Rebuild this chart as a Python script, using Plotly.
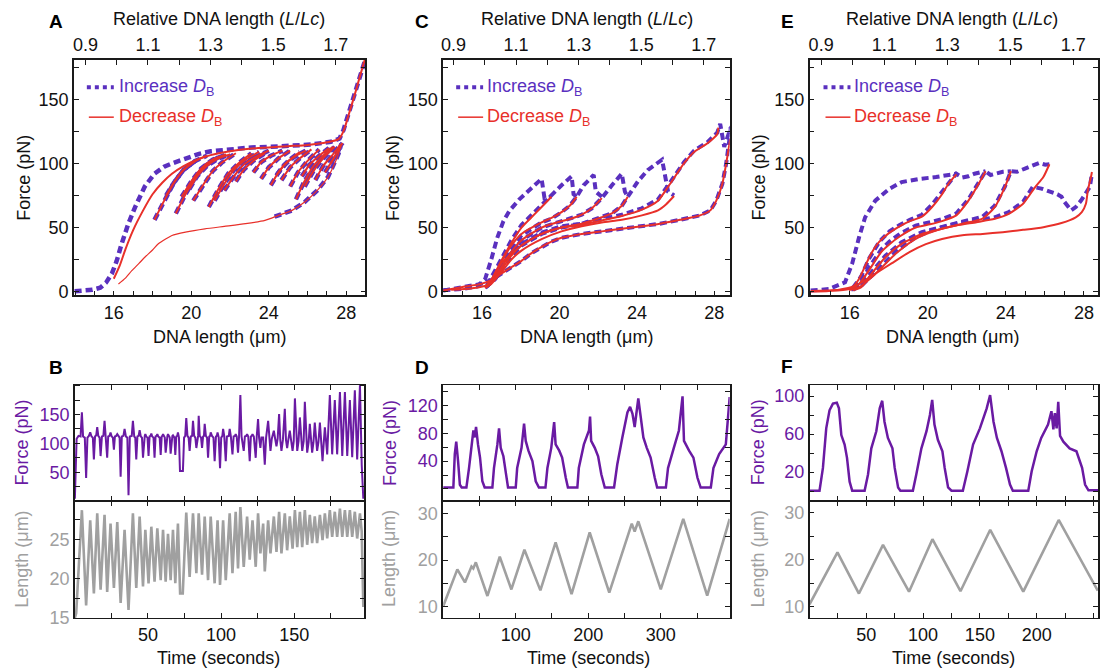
import plotly.graph_objects as go

W, H = 1100, 672          # reference pixel space used for placing everything
FIG_H = 683               # figure height (captured page is scaled back to 672)
FONT = "Arial, 'Liberation Sans', Helvetica, sans-serif"
PURPLE = "#5a30bf"
RED = "#e8302a"
FPURPLE = "#6a1aa3"
GRAY = "#a0a0a0"
INK = "#1a1a1a"
LC = 16.15  # contour length (um) used for the relative-length axis

# ---------------- data: panel A (force vs extension) ----------------
A_inc_envelope = [(13.98, 0.3), (14.5, 0.8), (14.9, 1.4), (15.3, 3), (15.6, 7), (15.9, 14), (16.15, 24),
                  (16.4, 37), (16.75, 53), (17.1, 66), (17.6, 82), (18.1, 92), (18.6, 97.5), (19.0, 100),
                  (19.5, 103), (20.4, 107.5), (21.0, 109.5), (22.1, 111.5), (23.1, 112.5), (24.1, 113),
                  (25.2, 113.7), (26.2, 114.8), (27.2, 116.9), (27.65, 119.5), (27.85, 126), (28.1, 139),
                  (28.35, 150), (28.6, 163), (28.85, 175), (29.0, 182)]
A_dec_envelope = [(16.0, 10), (16.3, 20), (16.6, 33), (17.0, 48), (17.5, 63), (18.0, 76), (18.5, 85),
                  (19.0, 92), (19.6, 98), (20.3, 103), (21.0, 106.5), (22.0, 109.5), (23.0, 111.5),
                  (24.0, 112.5), (25.0, 113.5), (26.0, 114.5), (27.0, 116.5), (27.6, 119), (27.85, 125),
                  (28.1, 137), (28.4, 152), (28.7, 168), (28.95, 181)]
A_branches = [
    [(18.1, 56), (18.6, 71), (19.1, 85), (19.6, 95), (20.3, 103)],
    [(18.7, 75), (19.1, 85), (19.6, 95), (20.2, 102), (20.8, 106)],
    [(19.2, 61), (19.7, 76), (20.2, 89), (20.7, 98), (21.4, 105)],
    [(19.5, 74), (20.0, 86), (20.5, 96), (21.1, 103), (21.8, 107)],
    [(19.9, 80), (20.3, 90), (20.8, 98), (21.4, 104), (22.0, 107)],
    [(20.1, 71), (20.6, 83), (21.1, 94), (21.6, 101), (22.3, 108)],
    [(20.9, 66), (21.4, 80), (21.9, 92), (22.5, 101), (23.1, 108)],
    [(21.2, 71), (21.7, 84), (22.2, 95), (22.8, 103), (23.5, 109)],
    [(21.7, 79), (22.2, 90), (22.7, 99), (23.3, 105), (24.0, 110)],
    [(22.3, 86), (22.7, 95), (23.2, 102), (23.8, 108)],
    [(23.2, 93), (23.6, 101), (24.1, 106), (24.7, 110)],
    [(23.6, 88), (24.0, 97), (24.5, 104), (25.1, 110)],
    [(24.1, 83), (24.5, 93), (25.0, 102), (25.6, 109)],
    [(24.4, 91), (24.8, 99), (25.3, 105), (25.9, 110)],
    [(24.65, 87), (25.1, 97), (25.6, 104), (26.2, 111)],
    [(25.1, 82), (25.5, 93), (26.0, 102), (26.6, 111)],
    [(25.4, 72), (25.8, 85), (26.3, 98), (26.8, 106), (27.3, 113)],
    [(25.7, 90), (26.1, 99), (26.6, 106), (27.1, 112)],
    [(25.85, 82), (26.3, 94), (26.8, 104), (27.4, 113)],
    [(26.4, 87), (26.8, 98), (27.3, 107), (27.7, 115)],
    [(26.9, 93), (27.3, 103), (27.7, 113)],
    [(27.2, 100), (27.5, 108), (27.8, 116)],
]
A_low_dec = [(16.24, 5.9), (16.6, 10.5), (16.93, 16.4), (17.3, 22), (17.6, 26.8), (18.0, 32.5), (18.3, 37.3),
             (18.7, 41.2), (19.0, 43.8), (19.7, 46.4), (20.7, 49), (21.7, 50.9), (22.8, 53), (23.8, 55.6),
             (24.5, 59.5), (25.2, 63.4), (25.85, 69.9), (26.5, 79), (27.05, 89.4), (27.4, 99.9),
             (27.6, 107.7), (27.74, 115.5)]
A_low_inc = [(24.3, 58.5), (24.5, 59.5), (25.2, 63.4), (25.85, 69.9), (26.5, 79), (27.05, 89.4),
             (27.4, 99.9), (27.6, 107.7), (27.74, 115.5)]

# ---------------- data: panel C ----------------
C_inc_curves = [
    [(14.0, 1), (14.93, 2), (15.76, 4), (16.17, 10), (16.48, 25), (16.79, 42), (17.11, 55), (17.42, 63),
     (17.93, 72), (18.56, 81), (19.08, 88), (19.23, 73), (19.59, 74)],
    [(16.27, 5), (16.59, 14), (17.0, 27), (17.52, 40), (18.04, 52), (18.56, 60), (19.08, 68), (19.59, 76),
     (20.11, 83), (20.63, 90), (20.73, 76), (20.89, 74)],
    [(16.27, 4), (16.79, 14), (17.31, 28), (18.04, 44), (19.08, 54), (19.59, 57), (20.11, 62), (20.53, 67),
     (20.89, 74), (21.25, 83), (21.77, 91), (21.88, 78), (22.19, 74)],
    [(16.17, 3), (16.69, 10), (17.21, 24), (18.04, 40), (19.08, 50), (20.11, 55), (20.63, 57), (21.15, 60),
     (21.67, 65), (22.19, 73), (22.71, 83), (23.22, 92), (23.38, 78), (23.53, 74)],
    [(16.17, 3), (16.69, 10), (17.21, 22), (18.04, 36), (19.08, 45), (20.11, 50), (21.15, 53), (22.19, 58),
     (22.71, 61), (23.22, 67), (23.53, 74), (24.05, 86), (24.57, 95), (25.30, 103), (25.61, 78),
     (25.92, 75)],
    [(16.27, 5), (16.59, 12), (17.0, 23), (17.52, 30), (18.04, 37), (19.08, 46), (20.11, 51), (21.15, 53),
     (22.19, 56.5), (23.22, 60), (24.26, 65), (25.09, 72), (25.71, 85), (26.43, 101), (26.95, 110),
     (27.63, 116.5), (28.15, 124), (28.30, 131), (28.51, 113), (28.72, 122), (28.87, 129)],
    [(14.0, 0.8), (14.93, 3.4), (15.96, 6), (16.48, 9), (17.0, 14), (17.52, 19), (18.04, 24), (18.56, 30),
     (19.08, 35), (19.59, 39), (20.11, 42), (21.15, 45), (22.19, 47), (23.22, 49), (24.26, 51), (25.19, 53),
     (26.23, 56), (27.26, 59.5), (27.79, 63.4), (28.10, 71), (28.41, 84), (28.61, 100), (28.77, 118),
     (28.87, 130)],
]
C_dec_curves = [
    [(19.59, 74), (19.08, 66), (18.56, 58), (18.04, 50), (17.52, 38), (17.0, 24), (16.59, 12), (16.27, 5),
     (15.45, 2.5), (14.41, 1.5)],
    [(20.89, 74), (20.53, 67), (20.11, 62), (19.59, 57.5), (19.08, 54), (18.04, 45), (17.52, 36), (17.0, 23),
     (16.59, 11), (16.27, 4)],
    [(22.19, 73), (21.67, 65), (21.15, 60), (20.63, 57), (20.11, 55), (19.08, 50), (18.04, 40), (17.52, 31),
     (17.0, 19), (16.48, 7), (16.17, 3)],
    [(23.53, 74), (23.22, 67), (22.71, 61), (22.19, 58), (21.15, 53), (20.11, 50), (19.08, 45), (18.04, 36),
     (17.52, 28), (17.0, 17), (16.48, 7), (16.17, 3)],
    [(25.92, 74.6), (25.50, 68), (25.09, 63.4), (24.26, 59.5), (23.22, 56), (22.19, 54), (21.15, 51),
     (20.11, 47), (19.08, 41), (18.04, 32), (17.52, 25), (17.0, 15), (16.48, 6), (16.17, 3)],
    [(28.20, 128), (28.15, 123), (27.63, 115.6), (26.95, 109), (26.43, 100), (25.71, 84), (25.09, 71),
     (24.26, 64), (23.22, 59), (22.19, 55.5), (21.15, 52), (20.11, 50), (19.08, 45), (18.04, 36), (17.0, 22),
     (16.48, 9), (16.17, 4)],
    [(28.82, 119), (28.72, 110), (28.61, 100), (28.41, 84), (28.10, 71), (27.79, 63.4), (27.26, 59.5),
     (26.23, 56), (25.19, 53), (24.26, 51), (23.22, 49), (22.19, 47), (21.15, 45), (20.11, 42), (19.59, 39),
     (19.08, 35), (18.56, 30), (18.04, 24), (17.52, 19), (17.0, 14), (16.48, 9), (15.96, 6), (14.93, 3.4),
     (14.0, 0.8)],
]

# ---------------- data: panel E ----------------
E_inc_curves = [
    [(14.0, 0.8), (14.93, 2), (15.76, 7.3), (16.12, 21.6), (16.48, 42.5), (16.79, 58), (17.31, 71),
     (18.04, 80.3), (18.66, 85.5), (19.59, 88), (20.42, 89.4), (21.05, 91), (21.46, 92)],
    [(16.17, 3), (16.59, 12), (17.0, 26), (17.52, 39), (18.04, 47), (18.56, 52), (19.08, 56), (19.70, 60),
     (20.22, 68), (20.73, 78), (21.05, 85), (21.46, 92), (21.77, 89), (22.08, 90), (22.39, 92),
     (22.71, 93.5), (22.96, 94)],
    [(16.17, 2), (16.59, 8), (17.0, 19), (17.62, 33), (18.04, 39), (18.56, 45), (19.38, 51.5), (20.11, 54),
     (20.73, 56.5), (21.46, 61), (22.08, 72), (22.60, 85), (22.96, 94), (23.22, 91), (23.53, 92),
     (23.84, 93.5), (24.26, 94)],
    [(16.17, 1.5), (16.59, 5), (17.11, 15), (17.83, 28), (18.66, 38.5), (19.70, 46.5), (20.73, 50.5),
     (21.77, 54.5), (22.81, 58.5), (23.43, 67), (23.95, 82), (24.26, 94), (24.57, 93.5), (24.98, 96),
     (25.40, 98.5), (25.71, 100.4), (26.02, 99), (26.23, 99.4)],
    [(16.07, 1.5), (16.59, 4.5), (17.31, 15), (18.35, 31), (19.38, 42.5), (20.42, 49), (21.46, 53),
     (22.50, 55.5), (23.43, 58), (24.15, 62), (24.88, 70), (25.38, 81.7), (25.82, 80.4), (26.33, 77.7),
     (26.64, 76), (26.85, 74), (27.0, 70), (27.34, 63.4), (27.58, 66), (27.86, 71.2), (28.30, 81.7),
     (28.41, 92)],
]
E_dec_curves = [
    [(21.46, 91.5), (21.05, 84), (20.73, 76), (20.22, 66), (19.70, 58.5), (19.08, 55), (18.56, 51),
     (18.04, 46), (17.52, 39), (17.11, 30), (16.79, 20), (16.48, 10), (16.17, 4), (15.45, 1.5), (14.0, 0.5)],
    [(22.96, 94), (22.60, 84), (22.08, 71), (21.46, 59.5), (20.73, 55), (20.11, 52.5), (19.38, 50),
     (18.56, 43), (18.04, 37), (17.62, 31), (17.0, 17), (16.48, 6), (16.07, 1.5)],
    [(24.26, 94), (23.95, 81.6), (23.43, 66), (22.81, 57), (21.77, 53), (20.73, 49), (19.70, 45),
     (18.66, 37.3), (17.83, 26.8), (17.11, 13.8), (16.59, 3.4), (16.17, 1)],
    [(26.23, 99.4), (25.92, 89.4), (25.50, 81.6), (24.88, 68.6), (24.15, 60.7), (23.43, 56.8), (22.50, 54.2),
     (21.46, 51.6), (20.42, 47.7), (19.38, 41.2), (18.35, 29.5), (17.31, 13.8), (16.48, 3.4), (15.96, 1.3)],
    [(28.41, 93.3), (28.36, 89.4), (28.20, 79), (28.10, 68.6), (27.89, 62), (27.58, 58), (26.85, 53.5),
     (25.92, 50.3), (24.88, 48.2), (23.84, 46.4), (22.81, 45), (21.77, 44), (20.73, 41), (19.90, 37),
     (19.08, 31), (18.14, 22), (17.31, 14), (16.59, 7), (15.96, 2), (14.93, 0.5), (14.0, 0)],
]

# ---------------- data: panel B (time series) ----------------
B_length = [(0, 15.0), (0.9, 15.6), (4.8, 28.7), (7.7, 16.6), (10.5, 27.4), (13.0, 18.1), (15.3, 28.3),
            (17.6, 18.6), (20.3, 28.1), (22.1, 18.3), (24.4, 27.0), (26.7, 18.8), (29.0, 27.2), (31.3, 16.9),
            (34.0, 26.2), (36.7, 16.0), (39.7, 28.3), (42.0, 18.8), (44.3, 27.9), (46.6, 19.0), (48.2, 26.2),
            (50.4, 19.4), (52.3, 26.6), (54.5, 19.6), (56.4, 26.4), (58.7, 19.8), (60.3, 26.2), (62.1, 19.6),
            (63.7, 25.7), (65.5, 19.8), (67.1, 26.2), (68.7, 19.4), (70.5, 27.0), (72.0, 18.1), (73.8, 18.1),
            (76.2, 28.4), (78.5, 20.2), (80.8, 28.3), (83.1, 20.7), (84.7, 28.3), (87.0, 20.5), (88.8, 27.9),
            (91.1, 19.8), (92.9, 27.9), (95.6, 19.4), (97.6, 27.4), (99.3, 19.2), (101.4, 27.4), (103.2, 19.8),
            (105.9, 28.3), (107.8, 20.7), (110.0, 28.5), (111.6, 21.3), (113.2, 29.1), (115.5, 21.5),
            (117.8, 27.9), (119.6, 22.4), (121.5, 27.4), (123.7, 21.5), (125.3, 28.3), (126.9, 23.2),
            (128.8, 27.0), (129.9, 20.9), (132.2, 27.4), (133.8, 23.2), (136.1, 27.9), (137.9, 23.4),
            (139.7, 28.5), (141.3, 23.2), (143.6, 28.3), (145.2, 23.6), (147.0, 27.9), (148.9, 23.8),
            (150.5, 28.7), (152.1, 24.0), (153.9, 28.5), (155.5, 24.0), (157.3, 28.7), (158.9, 24.3),
            (160.7, 28.1), (162.3, 24.5), (164.1, 27.9), (165.7, 24.5), (167.6, 28.1), (169.4, 24.9),
            (171.0, 28.3), (172.6, 25.1), (174.4, 28.7), (176.0, 25.3), (177.8, 28.5), (179.4, 25.3),
            (181.3, 28.9), (182.9, 25.3), (184.7, 28.7), (186.3, 25.3), (188.1, 28.7), (189.7, 25.3),
            (191.5, 28.5), (193.1, 25.1), (195.0, 28.3), (196.2, 26.0), (197.3, 16.4)]
B_force = [(0, 4), (1.2, 108), (2.5, 113), (3.9, 112), (4.8, 154), (5.6, 112), (6.8, 110), (7.7, 40), (8.6, 110),
           (9.6, 113), (10.5, 119), (11.4, 112), (12.3, 110), (13.0, 72), (13.8, 112), (14.6, 114), (15.3, 128),
           (16.0, 113), (16.9, 110), (17.6, 78), (18.5, 112), (19.5, 113), (20.3, 139), (21.0, 113), (21.5, 110),
           (22.1, 75), (22.8, 112), (23.7, 113), (24.4, 119), (25.2, 112), (26.0, 110), (26.7, 89), (27.4, 112),
           (28.3, 113), (29.0, 116), (29.8, 112), (30.6, 110), (31.3, 42), (32.1, 112), (33.2, 113), (34.0, 125),
           (34.9, 112), (35.9, 110), (36.7, 10), (37.6, 112), (38.9, 113), (39.7, 139), (40.6, 112), (41.3, 110),
           (42.0, 72), (42.8, 112), (43.6, 113), (44.3, 123), (45.1, 112), (45.9, 110), (46.6, 75), (47.3, 112),
           (47.8, 113), (48.2, 116), (48.8, 112), (49.7, 110), (50.4, 78), (51.1, 112), (51.8, 113), (52.3, 117),
           (52.9, 112), (53.8, 110), (54.5, 75), (55.2, 112), (55.9, 113), (56.4, 116), (57.0, 112), (58.0, 110),
           (58.7, 80), (59.4, 112), (59.9, 113), (60.3, 116), (60.8, 112), (61.5, 110), (62.1, 84), (62.8, 112),
           (63.3, 113), (63.7, 116), (64.2, 112), (64.9, 110), (65.5, 82), (66.2, 112), (66.7, 113), (67.1, 114),
           (67.6, 112), (68.1, 110), (68.7, 80), (69.4, 112), (70.0, 113), (70.5, 119), (71.2, 110), (71.9, 52),
           (73.9, 52), (74.7, 110), (75.5, 113), (76.2, 144), (77.0, 113), (77.8, 110), (78.5, 87), (79.3, 112),
           (80.2, 113), (80.8, 139), (81.6, 113), (82.4, 110), (83.1, 92), (83.8, 112), (84.3, 113), (84.7, 148),
           (85.4, 113), (86.3, 110), (87.0, 92), (87.7, 112), (88.3, 113), (88.8, 134), (89.6, 113), (90.4, 110),
           (91.1, 75), (91.9, 112), (92.5, 113), (92.9, 119), (93.8, 113), (94.8, 110), (95.6, 69), (96.5, 112),
           (97.1, 113), (97.6, 119), (98.4, 110), (99.3, 57), (100.1, 110), (100.9, 113), (101.4, 125),
           (102.2, 112), (103.2, 69), (104.0, 112), (105.3, 113), (105.9, 125), (106.7, 112), (107.8, 81),
           (108.6, 112), (109.5, 113), (110.0, 116), (110.7, 112), (111.6, 84), (112.3, 112), (113.2, 184),
           (114.0, 112), (115.5, 87), (116.3, 112), (117.2, 113), (117.8, 116), (118.6, 112), (119.6, 69),
           (120.4, 112), (121.0, 113), (121.5, 116), (122.4, 112), (123.7, 75), (124.4, 112), (125.3, 142),
           (126.0, 110), (126.9, 92), (127.6, 110), (128.8, 110), (129.9, 63), (130.8, 110), (132.2, 139),
           (133.0, 108), (133.8, 87), (134.7, 108), (136.1, 122), (137.0, 108), (137.9, 95), (138.7, 108),
           (139.7, 151), (140.5, 106), (141.3, 87), (142.3, 106), (143.6, 160), (144.4, 106), (145.2, 92),
           (146.0, 106), (147.0, 122), (148.0, 104), (148.9, 87), (149.7, 104), (150.5, 178), (152.1, 87),
           (153.0, 104), (153.9, 145), (155.5, 87), (156.5, 104), (157.3, 172), (158.9, 84), (159.9, 102),
           (160.7, 134), (162.3, 84), (163.2, 102), (164.1, 136), (165.7, 87), (166.6, 102), (167.6, 136),
           (169.4, 69), (170.2, 100), (171.0, 128), (172.6, 81), (174.4, 184), (176.0, 81), (177.8, 175),
           (179.4, 81), (181.3, 189), (182.9, 78), (184.7, 189), (186.3, 78), (188.1, 175), (189.7, 76),
           (191.5, 192), (193.1, 72), (195.0, 201), (196.2, 63), (197.3, 4)]

# ---------------- data: panel D ----------------
D_length = [(0, 10.1), (19.5, 18.0), (30, 15.2), (39, 18.6), (41.5, 18.2), (45, 19.5), (61, 12.3), (78, 20.7),
            (94, 13.7), (112, 22.2), (134, 13.5), (155, 23.8), (177, 12.7), (202, 25.9), (229, 13.0),
            (260, 27.8), (264, 26.1), (269, 28.3), (300, 13.7), (331, 28.8), (364, 12.4), (395, 28.8)]
D_force = [(0, 2), (14, 2), (16, 50), (18, 68), (20.5, 40), (23, 6), (25.5, 2), (32, 2), (35.6, 30), (40, 69),
           (41.6, 84), (43.4, 74), (45.3, 89), (48, 64), (50.8, 45), (54, 11), (57.2, 2), (67.8, 2), (70, 30),
           (74.7, 64), (77, 87), (79.3, 59), (83, 47), (86.7, 21), (89.4, 2), (100, 2), (102, 30), (108, 59),
           (111.5, 94), (113.8, 69), (117.5, 55), (123, 40), (127.6, 11), (132, 2), (141, 2), (143.7, 30),
           (149, 59), (153, 96), (155, 64), (160, 55), (164, 45), (169, 16), (172, 2), (185, 2), (187, 30),
           (194, 64), (201, 84), (202.5, 104), (204, 69), (209, 59), (213.6, 47), (218, 21), (222.8, 2),
           (235.6, 2), (240, 35), (247, 74), (254, 110), (257.7, 118), (261, 108), (264, 89), (267, 118),
           (269, 130), (272.4, 103), (276, 74), (280.7, 59), (286, 45), (291.7, 16), (295, 2), (307, 2),
           (310, 30), (318, 59), (325, 84), (330, 133), (332, 69), (339, 55), (345, 45), (350.6, 16), (355, 2),
           (369, 2), (372.6, 30), (380.5, 50), (389.7, 64), (395, 132)]

# ---------------- data: panel F ----------------
F_length = [(0, 10.5), (24.6, 21.6), (43.5, 12.8), (64.7, 23.2), (87.6, 13.2), (108.2, 24.4), (132.9, 13.3),
            (159.1, 26.4), (188.2, 13.2), (219.4, 28.5), (253.8, 13.4)]
F_force = [(0, 0.5), (8.8, 0.5), (11.8, 24.5), (14.7, 66), (17.6, 85), (20.6, 92), (24, 93), (25.9, 87), (28, 59),
           (30.9, 49), (33, 35), (35.3, 10), (37.6, 0.5), (48.5, 0.5), (51.5, 17.6), (54.4, 45), (58.8, 63),
           (61.8, 87), (64, 95), (66, 73), (69, 56), (73, 45), (75, 24.5), (78, 4), (80, 0.5), (91, 0.5),
           (94, 17.6), (98.5, 45), (103, 63), (106, 80), (108, 96), (110, 70), (113, 54), (117, 42), (119, 24.5),
           (122, 4), (125, 0.5), (135, 0.5), (139, 21), (144, 49), (150, 66), (156, 87), (159, 101), (162, 73),
           (165, 56), (169, 42), (173, 24.5), (176.5, 7), (179, 0.5), (192.6, 0.5), (195.6, 21), (200, 42),
           (204, 56), (210, 70), (213, 84), (214.7, 65), (216, 82), (217.6, 66), (219, 94), (220.6, 58),
           (223.5, 52), (229, 45), (235, 42), (240, 24.5), (242.6, 7), (245.6, 1), (254, 1)]

# ---------------- tick labels ----------------
FE_x_labels = [16, 20, 24, 28]
FE_y_labels = [0, 50, 100, 150]
REL_labels = [0.9, 1.1, 1.3, 1.5, 1.7]
B_t_labels, B_f_labels, B_l_labels = [50, 100, 150], [50, 100, 150], [15, 20, 25]
D_t_labels, D_f_labels, D_l_labels = [100, 200, 300], [40, 80, 120], [10, 20, 30]
F_t_labels, F_f_labels, F_l_labels = [50, 100, 150, 200], [20, 60, 100], [10, 20, 30]

# ======================================================================
fig = go.Figure()


def fx(p):
    return p / W


def fy(p):
    return 1 - p / H


def add_curve(pts, xa, ya, color, width, dash=None, shape="linear"):
    fig.add_trace(go.Scatter(
        x=[p[0] for p in pts], y=[p[1] for p in pts], xaxis=xa, yaxis=ya, mode="lines",
        line=dict(color=color, width=width, dash=dash, shape=shape, smoothing=0.6 if shape == "spline" else None),
        showlegend=False, hoverinfo="skip"))


def frange(a, b, s):
    out, v = [], a
    while v <= b + 1e-9:
        out.append(round(v, 6))
        v += s
    return out


def tk(vals, labeled, fmt="{:g}"):
    lab = set(round(v, 6) for v in labeled)
    return dict(tickmode="array", tickvals=vals,
                ticktext=[fmt.format(v) if round(v, 6) in lab else "" for v in vals])


def base(color="#111111", lw=1.5):
    return dict(showline=True, linecolor=INK, linewidth=lw, ticks="inside", ticklen=5, tickwidth=1,
                tickcolor=INK, showgrid=False, zeroline=False,
                tickfont=dict(family=FONT, size=18, color=color))


DASH = "7px,4px"
layout = {}

# ---- top panels ----
top_panels = [
    ("x", "y", "x2", (72, 364), (13.94, 28.98)),
    ("x3", "y3", "x4", (442, 729), (14.0, 28.79)),
    ("x5", "y5", "x6", (809, 1098), (13.94, 28.72)),
]
Y_TOP = (60, 295)
Y_RANGE = (-3, 180.7)


def axkey(name):
    return ("xaxis" if name[0] == "x" else "yaxis") + name[1:]


for xa, ya, ta, (p0, p1), xr in top_panels:
    dom_x = [fx(p0), fx(p1)]
    dom_y = [fy(Y_TOP[1]), fy(Y_TOP[0])]
    layout[axkey(xa)] = dict(base(), domain=dom_x, range=list(xr), anchor=ya, side="bottom", mirror=False,
                             **tk(frange(14, 29, 1), FE_x_labels))
    layout[axkey(ta)] = dict(base(), overlaying=xa, anchor=ya, side="top", range=[xr[0] / LC, xr[1] / LC],
                             **tk(frange(0.9, 1.8, 0.1), REL_labels, "{:.1f}"))
    layout[axkey(ya)] = dict(base(), domain=dom_y, range=list(Y_RANGE), anchor=xa, mirror="ticks",
                             **tk(frange(0, 175, 25), FE_y_labels))
    fig.add_trace(go.Scatter(x=[xr[0] / LC, xr[1] / LC], y=[None, None], xaxis=ta, yaxis=ya, mode="lines",
                             showlegend=False, hoverinfo="skip"))

# Panel A traces
add_curve(A_inc_envelope, "x", "y", PURPLE, 4.5, DASH)
for br in A_branches:
    add_curve(br, "x", "y", PURPLE, 4.5, DASH)
add_curve(A_low_inc, "x", "y", PURPLE, 4.5, DASH)
add_curve(A_dec_envelope, "x", "y", RED, 2, None, "spline")
for br in A_branches:
    add_curve(br, "x", "y", RED, 2, None, "spline")
add_curve(A_low_dec, "x", "y", RED, 1.2, None, "spline")

# Panel C traces
for c in C_inc_curves:
    add_curve(c, "x3", "y3", PURPLE, 4, DASH)
for c in C_dec_curves:
    add_curve(c, "x3", "y3", RED, 2, None, "spline")

# Panel E traces
for c in E_inc_curves:
    add_curve(c, "x5", "y5", PURPLE, 4, DASH)
for c in E_dec_curves:
    add_curve(c, "x5", "y5", RED, 2, None, "spline")

# ---- bottom panels ----
bottom_panels = [
    ("x7", "y7", "x8", "y8", (73, 363), (0, 198), (0.5, 202), (15, 29.9),
     frange(25, 175, 25), B_t_labels, frange(25, 200, 25), B_f_labels, frange(15, 27.5, 2.5), B_l_labels,
     B_force, B_length, 2.0),
    ("x9", "y9", "x10", "y10", (442, 729), (0, 395), (-17, 150), (7.6, 32.7),
     frange(50, 350, 50), D_t_labels, frange(0, 140, 20), D_f_labels, frange(10, 30, 5), D_l_labels,
     D_force, D_length, 2.5),
    ("x11", "y11", "x12", "y12", (809, 1098), (0, 254), (-10, 112), (7.6, 32.6),
     frange(25, 250, 25), F_t_labels, frange(0, 100, 20), F_f_labels, frange(10, 30, 5), F_l_labels,
     F_force, F_length, 2.5),
]
YF = (384, 500)
YL = (500, 617)
for (xf, yf, xl, yl, (p0, p1), tr, frr, lr, tt, tl, ft, fl, lt, ll, fdat, ldat, fw) in bottom_panels:
    dom_x = [fx(p0), fx(p1)]
    layout[axkey(xf)] = dict(base(lw=1.2), domain=dom_x, range=list(tr), anchor=yf, mirror="ticks",
                             showticklabels=False, **tk(tt, tl))
    layout[axkey(yf)] = dict(base(FPURPLE), domain=[fy(YF[1]), fy(YF[0])], range=list(frr), anchor=xf,
                             mirror="ticks", **tk(ft, fl))
    layout[axkey(xl)] = dict(base(lw=1.2), domain=dom_x, range=list(tr), anchor=yl, mirror="ticks", **tk(tt, tl))
    layout[axkey(yl)] = dict(base(GRAY), domain=[fy(YL[1]), fy(YL[0])], range=list(lr), anchor=xl,
                             mirror="ticks", **tk(lt, ll))
    add_curve(fdat, xf, yf, FPURPLE, fw)
    add_curve(ldat, xl, yl, GRAY, 2.6)

# ---- annotations ----
ann = []


def text(px, py, s, size=18, color="#111111", angle=0, xanchor="center", bold=False):
    ann.append(dict(x=fx(px), y=fy(py), xref="paper", yref="paper", text=f"<b>{s}</b>" if bold else s,
                    showarrow=False, textangle=angle, xanchor=xanchor, yanchor="middle",
                    font=dict(family=FONT, size=size, color=color)))


for lbl, px, py in [("A", 54, 21), ("C", 421, 21), ("E", 787, 21), ("B", 54, 367), ("D", 421, 367), ("F", 786, 366)]:
    text(px, py, lbl, 19, "#000", bold=True)
for cx in (217.5, 586, 952):
    text(cx, 19, "Relative DNA length (<i>L</i>/<i>Lc</i>)")
for cx in (218, 586, 952):
    text(cx, 336, "DNA length (μm)")
for cx in (22, 391, 758):
    text(cx, 177.5, "Force (pN)", angle=-90)
for cx in (20, 388, 757):
    text(cx, 442, "Force (pN)", color=FPURPLE, angle=-90)
    text(cx, 558, "Length (μm)", color=GRAY, angle=-90)
for cx in (217, 588, 953):
    text(cx, 657, "Time (seconds)")

shapes = []
for s0, t0 in [(85, 115), (455, 484), (823, 852)]:
    shapes.append(dict(type="line", xref="paper", yref="paper", x0=fx(s0), x1=fx(s0 + 27), y0=fy(87), y1=fy(87),
                       line=dict(color=PURPLE, width=4, dash="dot")))
    shapes.append(dict(type="line", xref="paper", yref="paper", x0=fx(s0 + 2), x1=fx(s0 + 27), y0=fy(117),
                       y1=fy(117), line=dict(color=RED, width=1.5)))
    text(t0, 87, "Increase <i>D</i><sub>B</sub>", color=PURPLE, xanchor="left")
    text(t0, 117, "Decrease <i>D</i><sub>B</sub>", color=RED, xanchor="left")

fig.update_layout(
    width=W, height=FIG_H, autosize=False, margin=dict(l=0, r=0, t=0, b=0),
    paper_bgcolor="white", plot_bgcolor="white", showlegend=False,
    font=dict(family=FONT, size=18, color="#111111"),
    annotations=ann, shapes=shapes, **layout)

PAGE_FIX = (
    "var d=document.getElementsByClassName('plotly-graph-div')[0];"
    "d.style.position='fixed';d.style.left='0px';d.style.top='0px';"
    "var b=document.body;b.style.margin='0px';b.style.padding='0px';"
)
fig.write_html("out.html", config={"displayModeBar": False}, post_script=PAGE_FIX)
